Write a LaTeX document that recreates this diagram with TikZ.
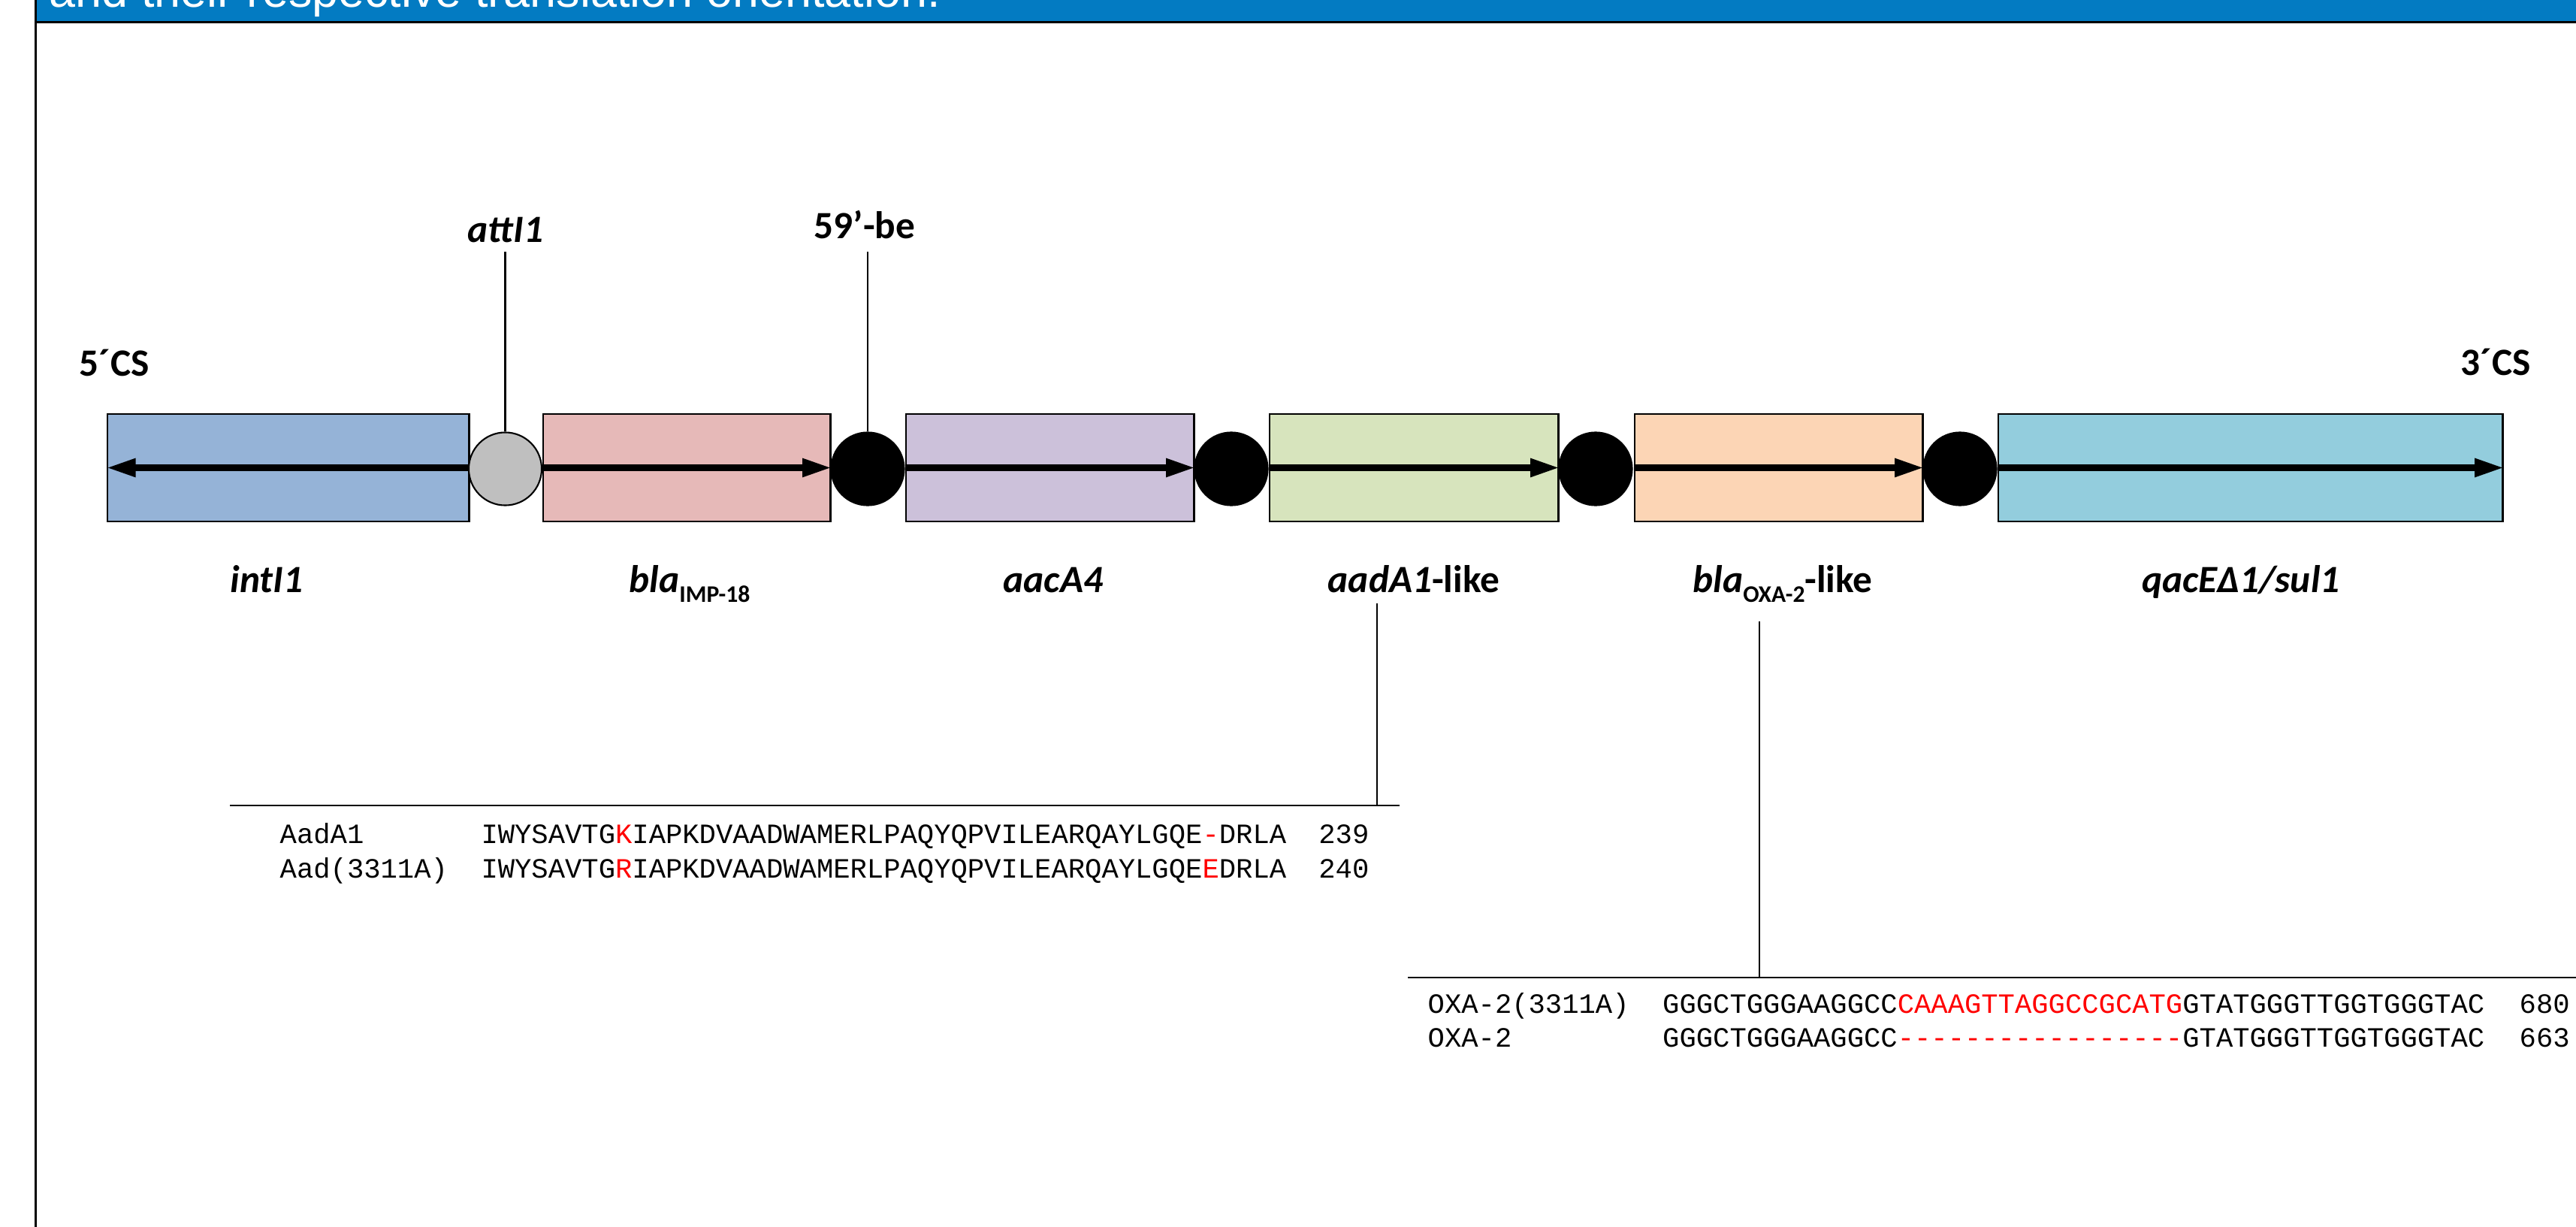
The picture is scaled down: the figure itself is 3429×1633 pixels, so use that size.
\documentclass[tikz,border=0pt]{standalone}
\usepackage{fontspec}
\setmainfont{Carlito}
\newfontfamily\seqfont{Liberation Mono}
\newfontfamily\bannerfont{Liberation Sans}
\usetikzlibrary{arrows.meta}

\definecolor{bannerblue}{HTML}{037BC2}
\definecolor{intcol}{HTML}{95B3D7}
\definecolor{impcol}{HTML}{E6B9B8}
\definecolor{aaccol}{HTML}{CCC1DA}
\definecolor{aadcol}{HTML}{D7E4BD}
\definecolor{oxacol}{HTML}{FCD5B5}
\definecolor{qaccol}{HTML}{93CDDD}
\definecolor{attcol}{HTML}{BFBFBF}
\definecolor{mutred}{HTML}{FF0000}

% subscript set upright, smaller and lowered
\newcommand\genesub[1]{\raisebox{-3.7pt}{\fontsize{9}{9}\selectfont\upshape\bfseries #1}}
\newcommand\mut[1]{\textcolor{mutred}{#1}}

\tikzset{
  genebox/.style={draw=black, line width=0.7pt, minimum height=1.43cm, inner sep=0pt, anchor=west},
  site/.style={circle, draw=black, line width=0.6pt, minimum size=0.97cm, inner sep=0pt},
  genearrow/.style={line width=2.3pt, -{Triangle[length=11pt,width=6.6pt]}},
  lab/.style={anchor=base, inner sep=0pt, font=\fontsize{14.6}{17}\selectfont\bfseries},
  lead/.style={draw=black, line width=0.6pt},
  rule/.style={draw=black, line width=0.75pt},
  seq/.style={anchor=base west, inner sep=0pt, font=\seqfont\fontsize{10.58}{12}\selectfont}
}

\begin{document}
\begin{tikzpicture}[x=0.01cm, y=-0.01cm]
\clip (0,0) rectangle (3429,1633);
\fill[white] (0,0) rectangle (3429,1633);

% header band and frame
\fill[bannerblue] (47,-10) rectangle (3440,28);
\draw[line width=0.85pt] (47,29.5) -- (3440,29.5);
\node[anchor=base west, inner sep=0pt, text=white, font=\bannerfont\fontsize{17.9}{20}\selectfont] (title) at (65,10) {and their respective translation orientation.};
\draw[line width=0.85pt] (47.5,-10) -- (47.5,1640);

% gene cassettes
\node[genebox, fill=intcol, minimum width=4.81cm] (int) at (142,622.5) {};
\node[genebox, fill=impcol, minimum width=3.82cm] (imp) at (722,622.5) {};
\node[genebox, fill=aaccol, minimum width=3.83cm] (aac) at (1205,622.5) {};
\node[genebox, fill=aadcol, minimum width=3.84cm] (aad) at (1689,622.5) {};
\node[genebox, fill=oxacol, minimum width=3.83cm] (oxa) at (2175,622.5) {};
\node[genebox, fill=qaccol, minimum width=6.71cm] (qac) at (2659,622.5) {};

% reading directions
\draw[genearrow] (int.east) -- (int.west);
\draw[genearrow] (imp.west) -- (imp.east);
\draw[genearrow] (aac.west) -- (aac.east);
\draw[genearrow] (aad.west) -- (aad.east);
\draw[genearrow] (oxa.west) -- (oxa.east);
\draw[genearrow] (qac.west) -- (qac.east);

% recombination sites
\node[site, fill=attcol] (att) at (672.5,624) {};
\node[site, fill=black] (be1) at (1155,624) {};
\node[site, fill=black] (be2) at (1639,624) {};
\node[site, fill=black] (be3) at (2124,624) {};
\node[site, fill=black] (be4) at (2609,624) {};

% labels above the array
\node[lab] (cs5) at (152,500) {5´CS};
\node[lab] (cs3) at (3322,499) {3´CS};
\node[lab] (tatt) at (673,322) {\itshape attI1};
\node[lab] (tbe) at (1151,317) {59’-be};
\coordinate (attTop) at (672.5,335);
\coordinate (beTop) at (1155,335);
\draw[lead] (att.north) -- (attTop);
\draw[lead] (be1.north) -- (beTop);

% labels below the array
\node[lab] (lint) at (355,788) {\itshape intI1};
\node[lab] (limp) at (918,788) {\itshape bla\genesub{IMP-18}};
\node[lab] (laac) at (1402,788) {\itshape aacA4};
\node[lab] (laad) at (1882,788) {\textit{aadA1}-like};
\node[lab] (loxa) at (2373,788) {\textit{bla}\genesub{OXA-2}-like};
\node[lab] (lqac) at (2983,788) {\itshape qacEΔ1/sul1};

% AadA1 alignment
\coordinate (aadLead) at (1833,803);
\coordinate (aadJoin) at (1833,1072);
\coordinate (aadRuleL) at (306,1072);
\coordinate (aadRuleR) at (1863,1072);
\draw[lead] (aadLead) -- (aadJoin);
\draw[rule] (aadRuleL) -- (aadRuleR);

\node[seq] (aadn1) at (372,1122) {AadA1};
\node[seq] (aads1) at (639.8,1122) {IWYSAVTG\mut{K}IAPKDVAADWAMERLPAQYQPVILEARQAYLGQE\mut{-}DRLA};
\node[seq] (aadc1) at (1754.7,1122) {239};
\node[seq] (aadn2) at (372,1168) {Aad(3311A)};
\node[seq] (aads2) at (639.8,1168) {IWYSAVTG\mut{R}IAPKDVAADWAMERLPAQYQPVILEARQAYLGQE\mut{E}DRLA};
\node[seq] (aadc2) at (1754.7,1168) {240};

% OXA-2 alignment
\coordinate (oxaLead) at (2342,827);
\coordinate (oxaJoin) at (2342,1301);
\coordinate (oxaRuleL) at (1874,1301);
\coordinate (oxaRuleR) at (3440,1301);
\draw[lead] (oxaLead) -- (oxaJoin);
\draw[rule] (oxaRuleL) -- (oxaRuleR);

\node[seq] (oxan1) at (1900,1348) {OXA-2(3311A)};
\node[seq] (oxas1) at (2212.5,1348) {GGGCTGGGAAGGCC\mut{CAAAGTTAGGCCGCATG}GTATGGGTTGGTGGGTAC};
\node[seq] (oxac1) at (3353,1348) {680};
\node[seq] (oxan2) at (1900,1393) {OXA-2};
\node[seq] (oxas2) at (2212.5,1393) {GGGCTGGGAAGGCC\mut{-----------------}GTATGGGTTGGTGGGTAC};
\node[seq] (oxac2) at (3353,1393) {663};
\end{tikzpicture}
\end{document}
